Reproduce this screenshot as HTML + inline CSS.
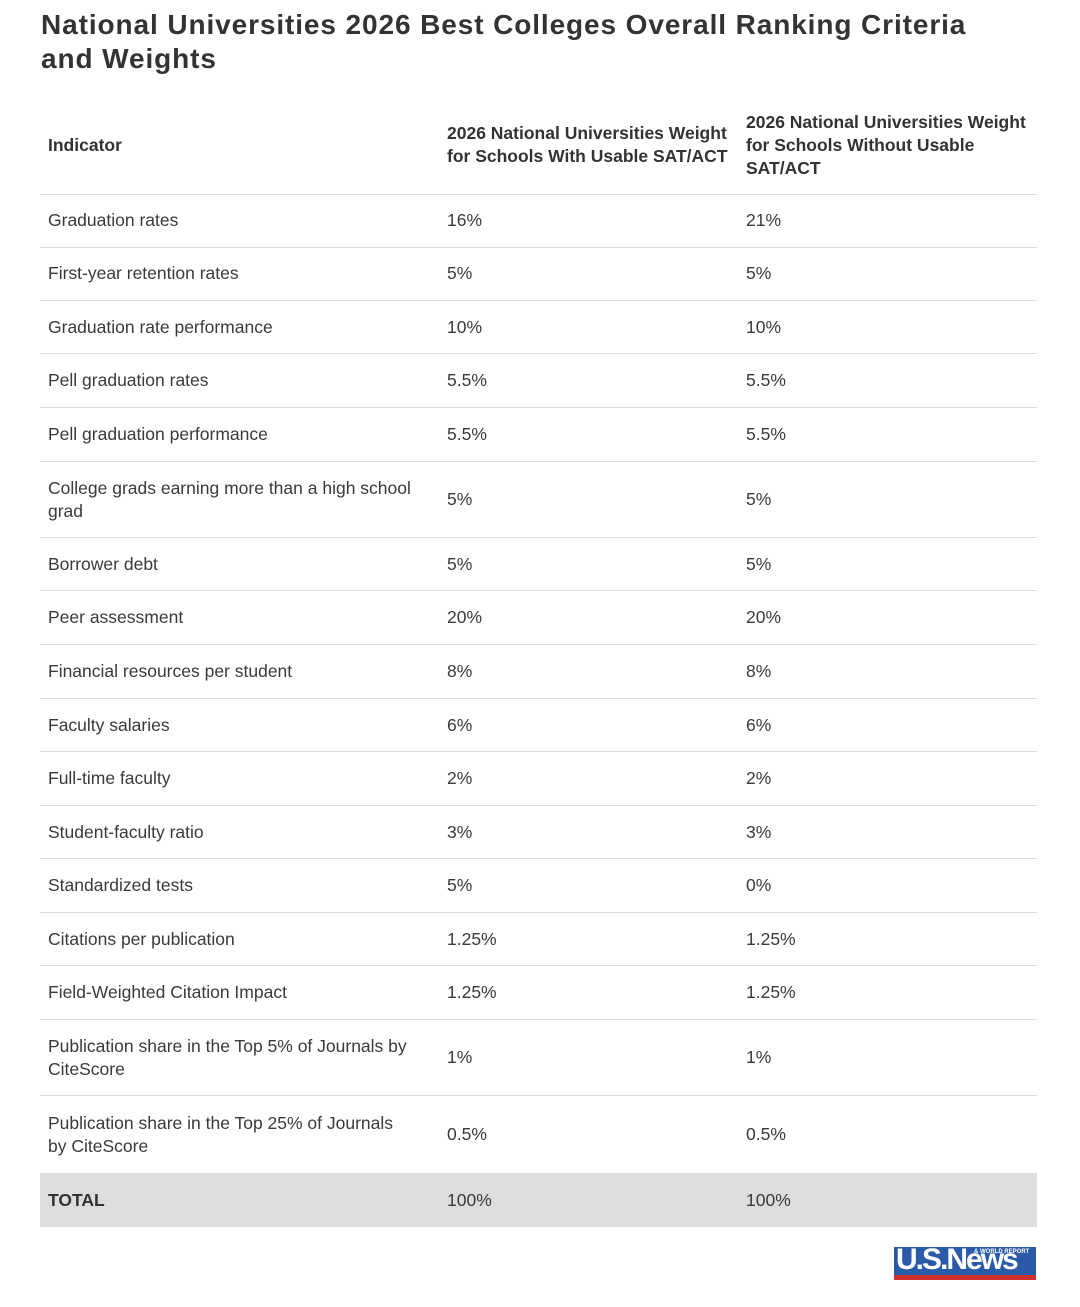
<!DOCTYPE html>
<html><head><meta charset="utf-8"><style>
body{margin:0;width:1080px;height:1307px;background:#fff;font-family:"Liberation Sans",sans-serif;color:#3a3a3a;position:relative;overflow:hidden}
h1{position:absolute;left:41px;top:8px;margin:0;font-size:28px;line-height:34px;font-weight:bold;color:#333;width:1000px;letter-spacing:0.9px}
.r{position:absolute;left:40px;width:997px;border-bottom:1px solid #ddd;display:flex;align-items:center;font-size:17.5px;line-height:23px}
.r div{position:absolute}
.a{left:8px;width:390px}.b{left:407px;width:290px}.c{left:706px;width:290px}
.h{font-weight:bold;color:#333}
.t{background:#ddd;border-bottom:none}
</style></head><body>
<h1>National Universities 2026 Best Colleges Overall Ranking Criteria<br>and Weights</h1>
<div class="r h" style="top:96px;height:98px"><div class="a">Indicator</div><div class="b">2026 National Universities Weight for Schools With Usable SAT/ACT</div><div class="c">2026 National Universities Weight for Schools Without Usable SAT/ACT</div></div>
<div class="r" style="top:194px;height:53px"><div class="a">Graduation rates</div><div class="b">16%</div><div class="c">21%</div></div>
<div class="r" style="top:247px;height:53px"><div class="a">First-year retention rates</div><div class="b">5%</div><div class="c">5%</div></div>
<div class="r" style="top:301px;height:52px"><div class="a">Graduation rate performance</div><div class="b">10%</div><div class="c">10%</div></div>
<div class="r" style="top:354px;height:53px"><div class="a">Pell graduation rates</div><div class="b">5.5%</div><div class="c">5.5%</div></div>
<div class="r" style="top:408px;height:53px"><div class="a">Pell graduation performance</div><div class="b">5.5%</div><div class="c">5.5%</div></div>
<div class="r" style="top:462px;height:75px"><div class="a">College grads earning more than a high school<br>grad</div><div class="b">5%</div><div class="c">5%</div></div>
<div class="r" style="top:538px;height:52px"><div class="a">Borrower debt</div><div class="b">5%</div><div class="c">5%</div></div>
<div class="r" style="top:591px;height:53px"><div class="a">Peer assessment</div><div class="b">20%</div><div class="c">20%</div></div>
<div class="r" style="top:645px;height:53px"><div class="a">Financial resources per student</div><div class="b">8%</div><div class="c">8%</div></div>
<div class="r" style="top:699px;height:52px"><div class="a">Faculty salaries</div><div class="b">6%</div><div class="c">6%</div></div>
<div class="r" style="top:752px;height:53px"><div class="a">Full-time faculty</div><div class="b">2%</div><div class="c">2%</div></div>
<div class="r" style="top:806px;height:52px"><div class="a">Student-faculty ratio</div><div class="b">3%</div><div class="c">3%</div></div>
<div class="r" style="top:859px;height:53px"><div class="a">Standardized tests</div><div class="b">5%</div><div class="c">0%</div></div>
<div class="r" style="top:913px;height:52px"><div class="a">Citations per publication</div><div class="b">1.25%</div><div class="c">1.25%</div></div>
<div class="r" style="top:966px;height:53px"><div class="a">Field-Weighted Citation Impact</div><div class="b">1.25%</div><div class="c">1.25%</div></div>
<div class="r" style="top:1020px;height:75px"><div class="a">Publication share in the Top 5% of Journals by<br>CiteScore</div><div class="b">1%</div><div class="c">1%</div></div>
<div class="r" style="top:1096px;height:77px;border-bottom:none"><div class="a">Publication share in the Top 25% of Journals<br>by CiteScore</div><div class="b">0.5%</div><div class="c">0.5%</div></div>
<div class="r t" style="top:1173px;height:54px"><div class="a h">TOTAL</div><div class="b">100%</div><div class="c">100%</div></div>
<div style="position:absolute;left:894px;top:1247px;width:142px;height:28px;background:#2a5aa8;overflow:hidden">
<div style="position:absolute;left:2px;top:-4px;color:#fff;font-weight:bold;font-size:30px;letter-spacing:-2px;font-family:'Liberation Sans',sans-serif">U.S.News</div>
<div style="position:absolute;left:80px;top:2px;color:#fff;font-size:6px;font-weight:bold">&amp; WORLD REPORT</div>
</div>
<div style="position:absolute;left:894px;top:1275px;width:142px;height:5px;background:#d2322d"></div>
</body></html>
